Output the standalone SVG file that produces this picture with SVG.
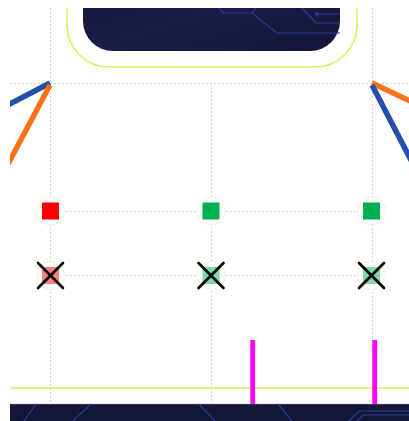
<svg xmlns="http://www.w3.org/2000/svg" width="409" height="421" viewBox="0 0 409 421">
  <defs>
    <linearGradient id="navy" x1="0" y1="0" x2="1" y2="1">
      <stop offset="0" stop-color="#131537"/>
      <stop offset="0.5" stop-color="#191d48"/>
      <stop offset="1" stop-color="#141638"/>
    </linearGradient>
    <clipPath id="page"><rect x="10" y="8" width="399" height="413"/></clipPath>
  </defs>
  <style>
    .grid { stroke: #d2d2d2; stroke-width: 1; stroke-dasharray: 2 2; fill: none; }
    .circ { stroke: #283d96; stroke-width: 1.2; fill: none; }
    .halo { fill: #ffffff; stroke: #f2f6c8; stroke-width: 1; }
    .xmark { stroke: #000000; stroke-width: 2.6; stroke-linecap: round; }
    .bar { fill: #ff00ff; }
  </style>
  <rect width="409" height="421" fill="#ffffff"/>
  <g clip-path="url(#page)">
    <g id="grid">
      <line class="grid" x1="50.5" y1="8" x2="50.5" y2="404"/>
      <line class="grid" x1="372.5" y1="8" x2="372.5" y2="404"/>
      <line class="grid" x1="211.5" y1="83" x2="211.5" y2="404"/>
      <line class="grid" x1="10" y1="83.5" x2="409" y2="83.5"/>
      <line class="grid" x1="50" y1="211.5" x2="372" y2="211.5"/>
      <line class="grid" x1="50" y1="275.5" x2="372" y2="275.5"/>
    </g>
    <g id="header">
      <rect x="67" y="-40" width="290" height="107" rx="42" fill="#ffffff" stroke="#dfee55" stroke-width="1.5"/>
      <rect x="83" y="-30" width="257" height="81" rx="30" fill="url(#navy)"/>
      <polyline class="circ" points="219,8 223,13 252,13 277,33 340,33"/>
      <line class="circ" x1="252" y1="13" x2="256" y2="8"/>
      <polyline class="circ" points="302,8 316,23 340,23"/>
      <line class="circ" x1="316" y1="14" x2="340" y2="14"/>
      <circle cx="316.5" cy="14" r="1.8" fill="#283d96"/>
    </g>
    <g id="connectors" stroke-linecap="butt" fill="none">
      <line x1="50" y1="83" x2="6" y2="106" stroke="#2450a8" stroke-width="5.5"/>
      <line x1="50" y1="85" x2="8" y2="164" stroke="#f97316" stroke-width="5.5"/>
      <line x1="372" y1="83" x2="412" y2="102" stroke="#f97316" stroke-width="5.5"/>
      <line x1="372" y1="85" x2="412" y2="162" stroke="#2450a8" stroke-width="5.5"/>
    </g>
    <g id="node-r1">
      <circle class="halo" cx="50.5" cy="211" r="14"/>
      <rect x="42" y="202.5" width="17" height="17" fill="#ff0000"/>
    </g>
    <g id="node-g1">
      <circle class="halo" cx="211" cy="211" r="14"/>
      <rect x="202.5" y="202.5" width="17" height="17" fill="#00b050"/>
    </g>
    <g id="node-g2">
      <circle class="halo" cx="371.5" cy="211" r="14"/>
      <rect x="363" y="202.5" width="17" height="17" fill="#00b050"/>
    </g>
    <g id="node-r2">
      <circle class="halo" cx="50.5" cy="275.5" r="14"/>
      <rect x="42" y="267" width="17" height="17" fill="#ff8080"/>
      <line class="xmark" x1="38" y1="263" x2="63" y2="288"/>
      <line class="xmark" x1="63" y1="263" x2="38" y2="288"/>
    </g>
    <g id="node-g3">
      <circle class="halo" cx="211" cy="275.5" r="14"/>
      <rect x="202.5" y="267" width="17" height="17" fill="#80d7a7"/>
      <line class="xmark" x1="198.5" y1="263" x2="223.5" y2="288"/>
      <line class="xmark" x1="223.5" y1="263" x2="198.5" y2="288"/>
    </g>
    <g id="node-g4">
      <circle class="halo" cx="371.5" cy="275.5" r="14"/>
      <rect x="363" y="267" width="17" height="17" fill="#80d7a7"/>
      <line class="xmark" x1="359" y1="263" x2="384" y2="288"/>
      <line class="xmark" x1="384" y1="263" x2="359" y2="288"/>
    </g>
    <line x1="10" y1="388" x2="409" y2="388" stroke="#dfee55" stroke-width="1.5"/>
    <g id="bars">
      <rect class="bar" x="250.3" y="340" width="4.8" height="64"/>
      <rect class="bar" x="372.3" y="340" width="4.8" height="64"/>
    </g>
    <g id="footer">
      <rect x="10" y="404" width="399" height="17" fill="#141637"/>
      <line x1="10" y1="404.3" x2="409" y2="404.3" stroke="#55597a" stroke-width="0.6"/>
      <line class="circ" x1="36" y1="404" x2="24" y2="421"/>
      <line class="circ" x1="91" y1="404" x2="73" y2="421"/>
      <line class="circ" x1="199" y1="404" x2="215" y2="421"/>
      <line class="circ" x1="278" y1="404" x2="292" y2="421"/>
      <polyline class="circ" points="349,421 359,411 409,411"/>
      <polyline class="circ" points="357,421 363,415 409,415"/>
    </g>
  </g>
</svg>
